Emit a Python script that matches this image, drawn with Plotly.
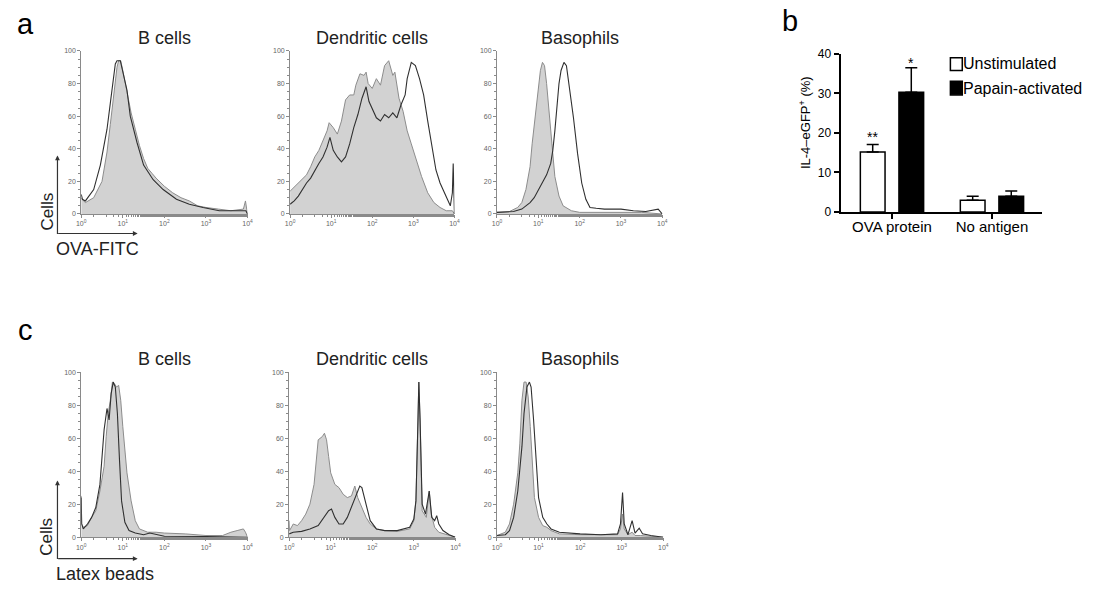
import numpy as np
import plotly.graph_objects as go

W, H = 1093, 593

# ---------------- data ----------------
hist_tick_exp = [0, 1, 2, 3, 4]
hist_tick_text = ["10<sup>0</sup>", "10<sup>1</sup>", "10<sup>2</sup>", "10<sup>3</sup>", "10<sup>4</sup>"]
hist_y_ticks = [0, 20, 40, 60, 80, 100]

# panel a : OVA-FITC  (x given as log10 of fluorescence)
aB_fill_exp = [0, 0.02, 0.1, 0.3, 0.5, 0.62, 0.7, 0.8, 0.86, 0.9, 0.95, 1.0, 1.1, 1.2, 1.3, 1.4, 1.5, 1.6, 1.7, 1.8, 2.0, 2.2, 2.4, 2.6, 2.8, 3.0, 3.3, 3.6, 3.9, 3.95, 3.98, 4.0]
aB_fill_cnt = [10, 9, 7, 10, 20, 38, 55, 78, 90, 94, 94, 88, 74, 62, 52, 42, 34, 28, 25, 22, 17, 13, 10, 8, 5, 4, 3, 2, 3, 8, 3, 0]
aB_open_exp = [0, 0.03, 0.1, 0.3, 0.46, 0.62, 0.7, 0.82, 0.86, 0.94, 1.1, 1.18, 1.34, 1.5, 1.73, 1.97, 2.29, 2.6, 2.93, 3.32, 3.7, 3.96, 4.0]
aB_open_cnt = [12, 9, 8, 15, 30, 52, 68, 92, 94, 94, 76, 60, 44, 30, 21, 15, 9, 6, 4, 2, 2, 2, 0]

aD_fill_exp = [0, 0.2, 0.3, 0.4, 0.5, 0.6, 0.7, 0.8, 0.9, 0.95, 1.05, 1.15, 1.25, 1.35, 1.45, 1.55, 1.6, 1.7, 1.8, 1.85, 1.9, 2.0, 2.1, 2.2, 2.3, 2.4, 2.5, 2.55, 2.65, 2.75, 2.85, 2.95, 3.05, 3.2, 3.35, 3.5, 3.65, 3.8, 3.95, 4.0]
aD_fill_cnt = [14, 19, 22, 24, 29, 35, 39, 45, 51, 56, 53, 49, 57, 70, 73, 73, 79, 86, 85, 87, 80, 77, 83, 79, 91, 94, 85, 87, 71, 63, 51, 43, 35, 23, 13, 7, 4, 2, 2, 0]
aD_open_exp = [0, 0.1, 0.2, 0.3, 0.4, 0.5, 0.6, 0.7, 0.8, 0.9, 0.97, 1.05, 1.15, 1.25, 1.35, 1.45, 1.55, 1.65, 1.75, 1.85, 1.92, 2.0, 2.1, 2.2, 2.3, 2.4, 2.5, 2.6, 2.7, 2.8, 2.85, 2.95, 3.05, 3.15, 3.25, 3.35, 3.45, 3.55, 3.65, 3.75, 3.85, 3.9, 3.95, 3.97, 4.0]
aD_open_cnt = [6, 8, 11, 15, 19, 22, 27, 31, 35, 41, 47, 39, 35, 32, 35, 43, 53, 61, 71, 78, 69, 65, 59, 57, 61, 59, 62, 59, 67, 73, 83, 93, 91, 83, 73, 57, 41, 27, 19, 13, 7, 5, 13, 31, 0]

aBa_fill_exp = [0, 0.3, 0.5, 0.6, 0.7, 0.8, 0.85, 0.9, 0.95, 1.0, 1.05, 1.1, 1.15, 1.2, 1.25, 1.3, 1.35, 1.4, 1.5, 1.6, 1.8, 2.0, 2.5, 3.0, 3.5, 4.0]
aBa_fill_cnt = [1, 1.5, 4, 7, 15, 29, 43, 55, 67, 79, 88, 93, 91, 80, 67, 51, 37, 23, 11, 5, 2, 1, 1, 1, 1, 0]
aBa_open_exp = [0, 0.4, 0.6, 0.8, 0.9, 1.0, 1.1, 1.2, 1.3, 1.35, 1.4, 1.45, 1.5, 1.55, 1.62, 1.68, 1.75, 1.85, 1.95, 2.05, 2.15, 2.25, 2.4, 2.6, 2.8, 3.0, 3.3, 3.6, 3.9, 4.0]
aBa_open_cnt = [1, 1.5, 3, 7, 10, 15, 19, 24, 31, 39, 51, 67, 80, 88, 93, 91, 79, 59, 37, 19, 9, 4, 3.5, 3, 3, 3, 2, 1.5, 3, 0]

# panel c : Latex beads
cB_fill_exp = [0, 0.01, 0.05, 0.15, 0.25, 0.35, 0.45, 0.55, 0.6, 0.65, 0.7, 0.75, 0.8, 0.85, 0.9, 0.95, 1.0, 1.05, 1.1, 1.2, 1.3, 1.4, 1.6, 1.8, 2.0, 2.5, 2.8, 3.0, 3.4, 3.6, 3.75, 3.9, 3.95, 4.0]
cB_fill_cnt = [25, 8, 6, 7, 12, 16, 28, 43, 61, 75, 83, 94, 93, 91, 92, 83, 67, 53, 39, 22, 10, 5, 3, 3, 2.5, 2, 1.5, 1, 1, 3, 4, 5, 3, 0]
cB_open_exp = [0, 0.01, 0.05, 0.15, 0.25, 0.35, 0.45, 0.55, 0.62, 0.67, 0.72, 0.77, 0.82, 0.87, 0.92, 0.97, 1.05, 1.15, 1.3, 1.5, 1.65, 1.8, 2.0, 3.0, 4.0]
cB_open_cnt = [24, 8, 5, 8, 12, 18, 32, 65, 78, 71, 87, 94, 91, 75, 47, 22, 9, 4, 2.5, 1.5, 2.5, 1.5, 0.6, 0.4, 0]

cD_fill_exp = [0, 0.01, 0.1, 0.2, 0.3, 0.4, 0.5, 0.6, 0.7, 0.8, 0.85, 0.9, 0.95, 1.0, 1.1, 1.2, 1.3, 1.4, 1.5, 1.58, 1.65, 1.75, 1.85, 1.95, 2.1, 2.3, 2.6, 2.9, 3.0, 3.05, 3.1, 3.12, 3.15, 3.2, 3.3, 3.37, 3.42, 3.5, 3.6, 3.8, 4.0]
cD_fill_cnt = [10, 4, 8, 7, 10, 14, 20, 32, 59, 61, 63, 59, 49, 39, 32, 30, 26, 24, 25, 31, 24, 18, 12, 8, 5, 4, 3.5, 5, 10, 22, 71, 94, 71, 16, 12, 28, 14, 6, 3, 1.5, 0]
cD_open_exp = [0, 0.1, 0.3, 0.5, 0.7, 0.85, 0.95, 1.02, 1.1, 1.2, 1.3, 1.4, 1.5, 1.6, 1.7, 1.75, 1.85, 1.95, 2.1, 2.3, 2.6, 2.9, 3.0, 3.05, 3.1, 3.12, 3.15, 3.2, 3.28, 3.37, 3.43, 3.5, 3.55, 3.6, 3.7, 3.85, 4.0]
cD_open_cnt = [2, 3, 3.5, 5, 7, 12, 16, 17, 12, 8, 8, 12, 18, 24, 31, 30, 20, 10, 5, 4, 4, 6, 11, 22, 71, 94, 71, 20, 14, 28, 12, 10, 13, 8, 4, 1.5, 0]

cBa_fill_exp = [0, 0.2, 0.3, 0.4, 0.5, 0.55, 0.6, 0.65, 0.7, 0.75, 0.8, 0.85, 0.9, 1.0, 1.1, 1.2, 1.3, 1.5, 2.0, 2.5, 2.9, 2.97, 3.02, 3.06, 3.15, 3.25, 3.32, 3.45, 4.0]
cBa_fill_cnt = [1, 3, 8, 20, 39, 57, 83, 94, 94, 85, 67, 45, 24, 12, 7, 6, 4, 2, 1.5, 1.5, 1.5, 5, 14, 5, 1.5, 3, 1, 1, 0]
cBa_open_exp = [0, 0.2, 0.3, 0.4, 0.5, 0.6, 0.65, 0.72, 0.78, 0.82, 0.88, 0.95, 1.0, 1.1, 1.2, 1.3, 1.5, 2.0, 2.5, 2.9, 2.97, 3.02, 3.06, 3.15, 3.25, 3.32, 3.42, 3.5, 3.7, 4.0]
cBa_open_cnt = [1, 1.5, 4, 12, 28, 55, 75, 91, 94, 91, 71, 41, 24, 12, 8, 5, 3, 2, 1.5, 2, 8, 27, 8, 1.5, 10, 2.5, 5.5, 2, 1, 0]

# panel b : bar chart
b_categories = ["OVA protein", "No antigen"]
b_unstim = [15.2, 3.0]
b_unstim_err = [1.9, 1.0]
b_papain = [30.3, 4.0]
b_papain_err = [6.2, 1.3]
b_unstim_stars = ["**", ""]
b_papain_stars = ["*", ""]
b_y_ticks = [0, 10, 20, 30, 40]

# ---------------- layout helpers ----------------
def dx(p0, p1):
    return [p0 / W, p1 / W]

def dy(top, bottom):
    return [1 - bottom / H, 1 - top / H]

FONT = "Liberation Sans, Arial, Helvetica, sans-serif"
fig = go.Figure()

hist_panels = [
    (aB_fill_exp, aB_fill_cnt, aB_open_exp, aB_open_cnt, dx(77, 245), dy(45, 212), "B cells"),
    (aD_fill_exp, aD_fill_cnt, aD_open_exp, aD_open_cnt, dx(288, 454), dy(45, 212), "Dendritic cells"),
    (aBa_fill_exp, aBa_fill_cnt, aBa_open_exp, aBa_open_cnt, dx(497, 664), dy(45, 212), "Basophils"),
    (cB_fill_exp, cB_fill_cnt, cB_open_exp, cB_open_cnt, dx(77, 245), dy(374, 543), "B cells"),
    (cD_fill_exp, cD_fill_cnt, cD_open_exp, cD_open_cnt, dx(287, 455), dy(374, 543), "Dendritic cells"),
    (cBa_fill_exp, cBa_fill_cnt, cBa_open_exp, cBa_open_cnt, dx(497, 665), dy(374, 543), "Basophils"),
]

annotations = []
axis_line = "#8a8a8a"
tick_grey = "#666666"
for i, (fe, fc, oe, oc, xd, yd, title) in enumerate(hist_panels, start=1):
    xa = "x" if i == 1 else f"x{i}"
    ya = "y" if i == 1 else f"y{i}"
    fig.add_trace(go.Scatter(
        x=10 ** np.array(fe, dtype=float), y=fc, mode="lines", fill="tozeroy",
        fillcolor="#d2d2d2", line=dict(color="#8c8c8c", width=1),
        xaxis=xa, yaxis=ya, showlegend=False, hoverinfo="skip"))
    fig.add_trace(go.Scatter(
        x=10 ** np.array(oe, dtype=float), y=oc, mode="lines",
        line=dict(color="#303030", width=1.1),
        xaxis=xa, yaxis=ya, showlegend=False, hoverinfo="skip"))
    xkey = "xaxis" if i == 1 else f"xaxis{i}"
    ykey = "yaxis" if i == 1 else f"yaxis{i}"
    fig.update_layout({
        xkey: dict(domain=xd, anchor=ya, type="log", range=[0, 4],
                   tickvals=[10 ** e for e in hist_tick_exp], ticktext=hist_tick_text,
                   tickfont=dict(size=7, color=tick_grey, family=FONT),
                   showline=True, linecolor=axis_line, linewidth=1,
                   ticks="outside", ticklen=3, tickcolor=axis_line,
                   minor=dict(ticks="outside", ticklen=2, tickcolor=axis_line),
                   showgrid=False, zeroline=False),
        ykey: dict(domain=yd, anchor=xa, range=[0, 100], tickvals=hist_y_ticks,
                   tickfont=dict(size=7, color=tick_grey, family=FONT),
                   showline=True, linecolor=axis_line, linewidth=1,
                   ticks="outside", ticklen=3, tickcolor=axis_line,
                   minor=dict(ticks="outside", ticklen=2, tickcolor=axis_line, dtick=5),
                   showgrid=False, zeroline=False),
    })
    annotations.append(dict(text=title, xref="paper", yref="paper",
                            x=(xd[0] + xd[1]) / 2, y=yd[1] + 13 / H,
                            xanchor="center", yanchor="middle", showarrow=False,
                            font=dict(size=18, color="#222", family=FONT)))

# ---------------- panel b ----------------
bargap = 0.228
bargroupgap = 0.36
fig.add_trace(go.Bar(
    x=b_categories, y=b_unstim, name="Unstimulated", xaxis="x7", yaxis="y7",
    marker=dict(color="white", line=dict(color="black", width=1.5)),
    error_y=dict(type="data", array=b_unstim_err, arrayminus=[0] * len(b_unstim_err),
                 symmetric=False, color="black", thickness=1.5, width=6),
    showlegend=False))
fig.add_trace(go.Bar(
    x=b_categories, y=b_papain, name="Papain-activated", xaxis="x7", yaxis="y7",
    marker=dict(color="black", line=dict(color="black", width=1.5)),
    error_y=dict(type="data", array=b_papain_err, arrayminus=[0] * len(b_papain_err),
                 symmetric=False, color="black", thickness=1.5, width=6),
    showlegend=False))

offset = (1 - bargap) / 4
for k in range(len(b_categories)):
    if b_unstim_stars[k]:
        annotations.append(dict(text=b_unstim_stars[k], xref="x7", yref="y7",
                                x=k - offset, y=b_unstim[k] + b_unstim_err[k],
                                yanchor="bottom", yshift=-3, showarrow=False,
                                font=dict(size=14, color="black", family=FONT)))
    if b_papain_stars[k]:
        annotations.append(dict(text=b_papain_stars[k], xref="x7", yref="y7",
                                x=k + offset, y=b_papain[k] + b_papain_err[k],
                                yanchor="bottom", yshift=-5, showarrow=False,
                                font=dict(size=14, color="black", family=FONT)))

fig.update_layout(
    barmode="group", bargap=bargap, bargroupgap=bargroupgap,
    xaxis7=dict(domain=dx(844, 1048), anchor="y7", type="category",
                range=[-0.515, 1.505], showline=True, linecolor="black", linewidth=2,
                ticks="outside", ticklen=5, tickwidth=2, tickcolor="black",
                ticklabelstandoff=-5,
                tickfont=dict(size=15, color="black", family=FONT),
                showgrid=False, zeroline=False),
    yaxis7=dict(domain=dy(48, 210), anchor="x7", range=[0, 40], tickvals=b_y_ticks,
                showline=True, linecolor="black", linewidth=2,
                ticks="outside", ticklen=5, tickwidth=2, tickcolor="black",
                tickfont=dict(size=12, color="black", family=FONT),
                showgrid=False, zeroline=False),
)
annotations.append(dict(text="IL-4–eGFP<sup>+</sup> (%)", xref="paper", yref="paper",
                        x=808 / W, y=1 - 118 / H, textangle=-90,
                        xanchor="center", yanchor="middle", showarrow=False,
                        font=dict(size=13, color="black", family=FONT)))

shapes = [
    dict(type="rect", xref="paper", yref="paper", x0=955 / W, x1=967 / W,
         y0=1 - 65 / H, y1=1 - 52 / H, fillcolor="white", line=dict(color="black", width=1.5)),
    dict(type="rect", xref="paper", yref="paper", x0=955 / W, x1=967 / W,
         y0=1 - 90 / H, y1=1 - 76 / H, fillcolor="black", line=dict(color="black", width=1.5)),
]
annotations += [
    dict(text="Unstimulated", xref="paper", yref="paper", x=966 / W, y=1 - 58 / H,
         xanchor="left", yanchor="middle", showarrow=False,
         font=dict(size=16, color="black", family=FONT)),
    dict(text="Papain-activated", xref="paper", yref="paper", x=966 / W, y=1 - 83 / H,
         xanchor="left", yanchor="middle", showarrow=False,
         font=dict(size=16, color="black", family=FONT)),
]

for letter, (px, py) in {"a": (21, 17), "b": (793, 14), "c": (21, 331)}.items():
    annotations.append(dict(text=letter, xref="paper", yref="paper", x=px / W, y=1 - py / H,
                            xanchor="center", yanchor="middle", showarrow=False,
                            font=dict(size=29, color="black", family=FONT)))

# axis-name arrows (Cells / marker)
for corner_y, top_y, label in [(232, 152, "OVA-FITC"), (565, 485, "Latex beads")]:
    annotations.append(dict(xref="paper", yref="paper",
                            x=53 / W, y=1 - top_y / H, ax=0, ay=corner_y - top_y,
                            text="", showarrow=True, arrowhead=2, arrowsize=0.8,
                            arrowwidth=1.2, arrowcolor="#333"))
    annotations.append(dict(xref="paper", yref="paper",
                            x=134 / W, y=1 - corner_y / H, ax=-(134 - 53), ay=0,
                            text="", showarrow=True, arrowhead=2, arrowsize=0.8,
                            arrowwidth=1.2, arrowcolor="#333"))
    annotations.append(dict(text="Cells", xref="paper", yref="paper", x=42 / W,
                            y=1 - (corner_y - 22) / H, textangle=-90,
                            xanchor="center", yanchor="middle", showarrow=False,
                            font=dict(size=17, color="#222", family=FONT)))
    annotations.append(dict(text=label, xref="paper", yref="paper", x=50 / W,
                            y=1 - (corner_y + 16) / H, xanchor="left", yanchor="middle",
                            showarrow=False, font=dict(size=18, color="#222", family=FONT)))

fig.update_layout(
    width=W, height=H, margin=dict(l=0, r=0, t=0, b=0),
    paper_bgcolor="white", plot_bgcolor="white",
    annotations=annotations, shapes=shapes, showlegend=False,
    font=dict(family=FONT),
)

fig.write_html("out.html", config={"displayModeBar": False},
               post_script="document.body.style.margin='0';document.body.style.overflow='hidden';")
